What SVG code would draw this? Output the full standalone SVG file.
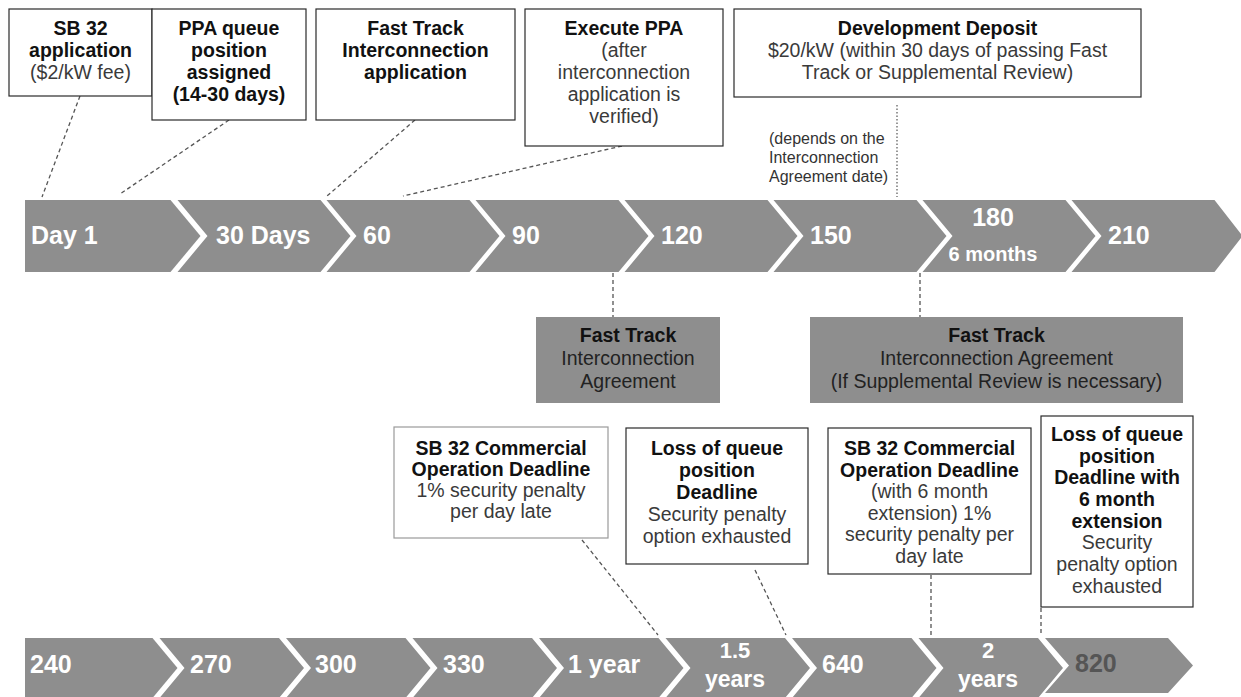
<svg xmlns="http://www.w3.org/2000/svg" width="1241" height="697" viewBox="0 0 1241 697">
<style>
.bg{fill:#ffffff}
.chev{fill:#8e8e8e}
.box{fill:#ffffff;stroke:#2a2a2a;stroke-width:1.2}
.boxl{fill:#ffffff;stroke:#9a9a9a;stroke-width:1.2}
.gbox{fill:#8e8e8e}
.t{font-family:"Liberation Sans",Arial,sans-serif;font-size:19.5px;text-anchor:middle;fill:#3a3a3a}
.b{font-weight:bold;fill:#111111}
.lab{font-family:"Liberation Sans",Arial,sans-serif;font-size:25px;font-weight:bold;fill:#ffffff}
.lab2{font-family:"Liberation Sans",Arial,sans-serif;font-size:22px;font-weight:bold;fill:#ffffff;text-anchor:middle}
.small{font-family:"Liberation Sans",Arial,sans-serif;font-size:16px;fill:#333333}
.dash{stroke:#555555;stroke-width:1.3;stroke-dasharray:4 3;fill:none}
.dot{stroke:#555555;stroke-width:1.2;stroke-dasharray:1.5 2;fill:none}
</style>
<rect class="bg" x="0" y="0" width="1241" height="697"/>

<g id="timeline-top">
<polygon class="chev" points="25,200 170.5,200 200.5,236 170.5,272 25,272"/>
<polygon class="chev" points="177.5,200 320.5,200 350.5,236 320.5,272 177.5,272 207.5,236"/>
<polygon class="chev" points="326.5,200 469.5,200 499.5,236 469.5,272 326.5,272 356.5,236"/>
<polygon class="chev" points="475.5,200 618.5,200 648.5,236 618.5,272 475.5,272 505.5,236"/>
<polygon class="chev" points="624.5,200 767.5,200 797.5,236 767.5,272 624.5,272 654.5,236"/>
<polygon class="chev" points="773.5,200 916.5,200 946.5,236 916.5,272 773.5,272 803.5,236"/>
<polygon class="chev" points="922.5,200 1065.5,200 1095.5,236 1065.5,272 922.5,272 952.5,236"/>
<polygon class="chev" points="1071.5,200 1214.5,200 1241,234 1241,238 1214.5,272 1071.5,272 1101.5,236"/>
<text class="lab" x="31" y="244">Day 1</text>
<text class="lab" x="216" y="244">30 Days</text>
<text class="lab" x="363" y="244">60</text>
<text class="lab" x="512" y="244">90</text>
<text class="lab" x="661" y="244">120</text>
<text class="lab" x="810" y="244">150</text>
<text class="lab" x="993" y="226" text-anchor="middle">180</text>
<text class="lab" x="993" y="261" text-anchor="middle" style="font-size:20px">6 months</text>
<text class="lab" x="1108" y="244">210</text>
</g>

<g id="timeline-bottom">
<polygon class="chev" points="25,638 152.5,638 177.5,668 152.5,698 25,698"/>
<polygon class="chev" points="159.5,638 279,638 304,668 279,698 159.5,698 184.5,668"/>
<polygon class="chev" points="286,638 405.5,638 430.5,668 405.5,698 286,698 311,668"/>
<polygon class="chev" points="412.5,638 532,638 557,668 532,698 412.5,698 437.5,668"/>
<polygon class="chev" points="539,638 658.5,638 683.5,668 658.5,698 539,698 564,668"/>
<polygon class="chev" points="665.5,638 785,638 810,668 785,698 665.5,698 690.5,668"/>
<polygon class="chev" points="792,638 911.5,638 936.5,668 911.5,698 792,698 817,668"/>
<polygon class="chev" points="918.5,638 1038,638 1063,668 1038,698 918.5,698 943.5,668"/>
<polygon class="chev" points="1045,638 1168,638 1193,665.5 1168,693 1045,693 1069,665.5"/>
<text class="lab" x="30" y="673">240</text>
<text class="lab" x="190" y="673">270</text>
<text class="lab" x="315" y="673">300</text>
<text class="lab" x="443" y="673">330</text>
<text class="lab" x="568" y="673">1 year</text>
<text class="lab2" x="735" y="658">1.5</text>
<text class="lab2" x="735" y="687" style="font-size:23px">years</text>
<text class="lab" x="822" y="673">640</text>
<text class="lab2" x="988" y="658">2</text>
<text class="lab2" x="988" y="687" style="font-size:23px">years</text>
<text class="lab" x="1075" y="672" style="fill:#555555">820</text>
</g>

<g id="connectors">
<line class="dash" x1="80" y1="96" x2="42" y2="197"/>
<line class="dash" x1="229" y1="120" x2="120" y2="194"/>
<line class="dash" x1="415" y1="120" x2="327" y2="196"/>
<line class="dash" x1="622" y1="146" x2="403" y2="196"/>
<line class="dot" x1="897" y1="105" x2="897" y2="197"/>
<line class="dash" x1="613" y1="273" x2="613" y2="317"/>
<line class="dash" x1="920" y1="273" x2="920" y2="317"/>
<line class="dash" x1="582" y1="540" x2="658" y2="635"/>
<line class="dash" x1="755" y1="570" x2="786" y2="635"/>
<line class="dash" x1="931" y1="575" x2="931" y2="635"/>
<line class="dash" x1="1041" y1="608" x2="1041" y2="635"/>
</g>

<g id="sb32-application">
<rect class="box" x="9" y="9" width="143" height="87"/>
<text class="t"><tspan class="b" x="80.5" y="35">SB 32</tspan><tspan class="b" x="80.5" y="57">application</tspan><tspan x="80.5" y="79">($2/kW fee)</tspan></text>
</g>

<g id="ppa-queue">
<rect class="box" x="152" y="9" width="154" height="111"/>
<text class="t b"><tspan x="229" y="35">PPA queue</tspan><tspan x="229" y="57">position</tspan><tspan x="229" y="79">assigned</tspan><tspan x="229" y="101">(14-30 days)</tspan></text>
</g>

<g id="fast-track-application">
<rect class="box" x="316" y="9" width="199" height="111"/>
<text class="t b"><tspan x="415.5" y="35">Fast Track</tspan><tspan x="415.5" y="57">Interconnection</tspan><tspan x="415.5" y="79">application</tspan></text>
</g>

<g id="execute-ppa">
<rect class="box" x="525" y="9" width="198" height="137"/>
<text class="t"><tspan class="b" x="624" y="35">Execute PPA</tspan><tspan x="624" y="57">(after</tspan><tspan x="624" y="79">interconnection</tspan><tspan x="624" y="101">application is</tspan><tspan x="624" y="123">verified)</tspan></text>
</g>

<g id="development-deposit">
<rect class="box" x="734" y="9" width="407" height="88"/>
<text class="t"><tspan class="b" x="937.5" y="35">Development Deposit</tspan><tspan x="937.5" y="57">$20/kW (within 30 days of passing Fast</tspan><tspan x="937.5" y="79">Track or Supplemental Review)</tspan></text>
</g>

<g id="depends-note">
<text class="small"><tspan x="769" y="144">(depends on the</tspan><tspan x="769" y="163">Interconnection</tspan><tspan x="769" y="182">Agreement date)</tspan></text>
</g>

<g id="fast-track-agreement">
<rect class="gbox" x="536" y="317" width="184" height="86"/>
<text class="t" style="fill:#222222"><tspan class="b" x="628" y="342">Fast Track</tspan><tspan x="628" y="365">Interconnection</tspan><tspan x="628" y="388">Agreement</tspan></text>
</g>

<g id="fast-track-agreement-supplemental">
<rect class="gbox" x="810" y="317" width="373" height="86"/>
<text class="t" style="fill:#222222"><tspan class="b" x="996.5" y="342">Fast Track</tspan><tspan x="996.5" y="365">Interconnection Agreement</tspan><tspan x="996.5" y="388">(If Supplemental Review is necessary)</tspan></text>
</g>

<g id="sb32-cod">
<rect class="boxl" x="394" y="427" width="214" height="111"/>
<text class="t"><tspan class="b" x="501" y="455">SB 32 Commercial</tspan><tspan class="b" x="501" y="476">Operation Deadline</tspan><tspan x="501" y="497">1% security penalty</tspan><tspan x="501" y="518">per day late</tspan></text>
</g>

<g id="loss-of-queue">
<rect class="box" x="626" y="428" width="182" height="136"/>
<text class="t"><tspan class="b" x="717" y="455">Loss of queue</tspan><tspan class="b" x="717" y="477">position</tspan><tspan class="b" x="717" y="499">Deadline</tspan><tspan x="717" y="521">Security penalty</tspan><tspan x="717" y="543">option exhausted</tspan></text>
</g>

<g id="sb32-cod-extension">
<rect class="box" x="828" y="428" width="203" height="146"/>
<text class="t"><tspan class="b" x="929.5" y="455">SB 32 Commercial</tspan><tspan class="b" x="929.5" y="476.5">Operation Deadline</tspan><tspan x="929.5" y="498">(with 6 month</tspan><tspan x="929.5" y="519.5">extension) 1%</tspan><tspan x="929.5" y="541">security penalty per</tspan><tspan x="929.5" y="562.5">day late</tspan></text>
</g>

<g id="loss-of-queue-extension">
<rect class="box" x="1041" y="416" width="152" height="191"/>
<text class="t"><tspan class="b" x="1117" y="441">Loss of queue</tspan><tspan class="b" x="1117" y="463">position</tspan><tspan class="b" x="1117" y="484">Deadline with</tspan><tspan class="b" x="1117" y="506">6 month</tspan><tspan class="b" x="1117" y="528">extension</tspan><tspan x="1117" y="549">Security</tspan><tspan x="1117" y="571">penalty option</tspan><tspan x="1117" y="593">exhausted</tspan></text>
</g>
</svg>
